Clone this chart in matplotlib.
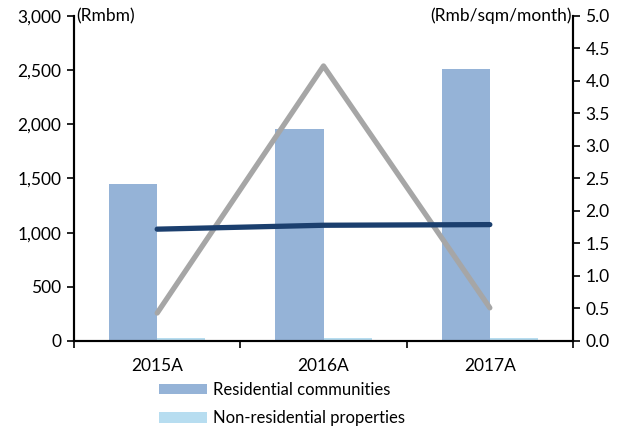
import numpy as np
import matplotlib.pyplot as plt
from matplotlib.ticker import FuncFormatter

plt.rcParams['font.family'] = ['Lato', 'DejaVu Sans']
plt.rcParams['font.size'] = 12.5

#%% Data
years = ['2015A', '2016A', '2017A']
residential = [1445, 1960, 2510]        # Rmbm
non_residential = [25, 25, 25]          # Rmbm
fee_avg = [1.72, 1.78, 1.79]            # Rmb/sqm/month
fee_other = [0.43, 4.23, 0.51]          # Rmb/sqm/month

#%% Plot
fig = plt.figure(figsize=(6.3, 4.3), dpi=100)
ax = fig.add_axes([0.1175, 0.207, 0.792, 0.756])
ax2 = ax.twinx()

x = np.arange(len(years))
w = 0.29
ax.bar(x - w / 2, residential, w, color='#95B3D7', label='Residential communities')
ax.bar(x + w / 2, non_residential, w, color='#B7DDF0', label='Non-residential properties')

ax2.plot(x, fee_other, color='#A6A6A6', lw=3.8, solid_capstyle='round')
ax2.plot(x, fee_avg, color='#1B3F6E', lw=3.8, solid_capstyle='round')

ax.set_xlim(-0.5, 2.5)
ax.set_ylim(0, 3000)
ax2.set_ylim(0, 5.0)
ax.set_yticks(np.arange(0, 3001, 500))
ax2.set_yticks(np.arange(0, 5.01, 0.5))
ax.yaxis.set_major_formatter(FuncFormatter(lambda v, p: f'{v:,.0f}'))
ax2.yaxis.set_major_formatter(FuncFormatter(lambda v, p: f'{v:.1f}'))

ax.set_xticks(x)
ax.set_xticklabels(years)
ax.set_xticks([-0.5, 0.5, 1.5, 2.5], minor=True)
ax.tick_params(axis='x', which='major', length=0, pad=12)
ax.tick_params(axis='x', which='minor', length=5, width=1.2, direction='out')
ax.tick_params(axis='y', length=5, width=1.2, direction='out', pad=4)
ax2.tick_params(axis='y', length=5, width=1.2, direction='out', pad=4)

for a in (ax, ax2):
    a.spines['top'].set_visible(False)
    for s in ('left', 'right', 'bottom'):
        a.spines[s].set_linewidth(1.5)

ax.text(0.005, 1.0, '(Rmbm)', transform=ax.transAxes, ha='left', va='center')
ax2.text(0.998, 1.0, '(Rmb/sqm/month)', transform=ax2.transAxes, ha='right', va='center')

ax.legend(loc='upper left', bbox_to_anchor=(0.14, -0.08), frameon=False,
          handlelength=2.9, handleheight=0.6, labelspacing=0.75, handletextpad=0.35,
          fontsize=12)

fig.savefig('out.png', dpi=100)
